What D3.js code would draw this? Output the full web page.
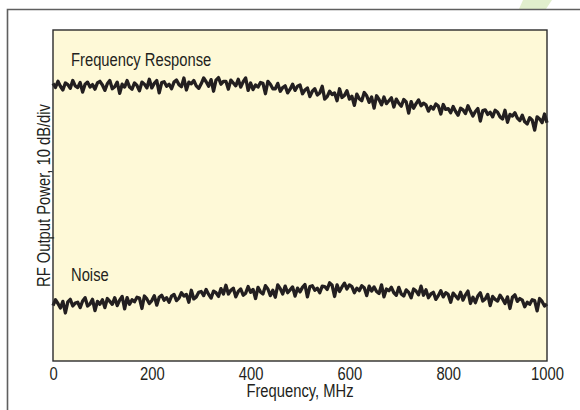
<!DOCTYPE html>
<html>
<head>
<meta charset="utf-8">
<script src="https://cdn.jsdelivr.net/npm/d3@7/dist/d3.min.js"></script>
<style>
  body { margin: 0; background: #fff; }
  text { font-family: 'Liberation Sans', Arial, sans-serif; fill: #231f20; }
</style>
</head>
<body>
<div id="chart"></div>
<script>
// sample grid, 5 MHz steps
var freqs = d3.range(0, 1001, 5)
var xTicks = [0, 200, 400, 600, 800, 1000]

// frequency response trace, relative dB (10 dB/div)
var rfResponse = [
  -12.9, -13.9, -12.4, -13.6, -14.5, -12.8, -13.2, -14.1, -12.2, -13.5,
  -13.9, -12.7, -15.0, -13.1, -12.6, -13.8, -13.2, -14.3, -12.8, -12.4,
  -13.3, -14.6, -13.0, -12.2, -14.2, -13.7, -12.6, -15.3, -13.1, -13.8,
  -12.2, -13.8, -14.3, -12.8, -13.4, -14.7, -12.6, -13.1, -14.0, -11.9,
  -14.0, -12.9, -12.2, -15.2, -12.7, -12.5, -13.6, -13.1, -14.2, -12.6,
  -12.1, -13.2, -13.7, -11.6, -14.5, -12.6, -13.0, -12.2, -13.5, -14.1,
  -13.0, -11.6, -12.5, -13.6, -12.0, -14.8, -12.1, -11.5, -13.1, -12.4,
  -12.4, -14.3, -12.1, -12.8, -13.5, -11.9, -13.8, -12.5, -11.6, -14.6,
  -12.8, -14.4, -13.3, -13.8, -12.7, -12.9, -15.4, -12.4, -13.1, -14.2,
  -14.2, -12.9, -14.8, -13.9, -13.5, -15.2, -14.3, -13.1, -14.6, -13.6,
  -13.3, -15.4, -14.5, -14.0, -16.1, -14.8, -14.2, -15.7, -15.2, -13.6,
  -16.7, -16.1, -14.8, -15.6, -15.2, -17.1, -14.2, -16.3, -15.8, -14.7,
  -16.7, -16.0, -18.2, -15.5, -16.6, -17.1, -15.1, -15.9, -17.5, -16.2,
  -18.9, -15.9, -16.8, -18.1, -16.2, -17.8, -17.1, -16.4, -18.6, -16.7,
  -17.7, -18.4, -16.8, -17.4, -20.1, -17.3, -18.9, -17.8, -16.9, -18.3,
  -17.7, -18.1, -19.6, -18.5, -19.1, -17.9, -18.4, -20.3, -18.0, -19.2,
  -19.0, -20.0, -18.5, -19.7, -20.6, -18.9, -19.3, -20.2, -18.3, -19.6,
  -20.8, -19.7, -19.0, -22.0, -19.5, -19.3, -20.4, -19.9, -21.0, -19.4,
  -19.9, -21.0, -21.5, -19.4, -22.3, -20.4, -20.8, -20.0, -21.3, -21.9,
  -20.6, -22.2, -22.7, -21.2, -21.8, -24.2, -21.0, -21.5, -22.4, -20.3,
  -22.4
]

// noise floor trace, relative dB
var noiseFloor = [
  -66.6, -65.2, -66.1, -67.2, -65.6, -68.4, -65.7, -65.1, -66.7, -66.0,
  -65.8, -67.1, -65.5, -64.7, -66.7, -66.2, -65.1, -67.8, -65.6, -66.3,
  -65.2, -67.1, -64.9, -65.6, -66.3, -64.7, -66.6, -65.3, -64.4, -67.4,
  -64.7, -66.3, -65.2, -65.7, -64.6, -64.8, -67.3, -64.3, -65.0, -66.1,
  -65.4, -64.2, -66.5, -64.6, -64.1, -65.3, -64.7, -65.8, -64.3, -63.9,
  -65.4, -64.8, -63.5, -64.3, -63.9, -65.8, -62.9, -65.0, -64.5, -63.4,
  -63.2, -64.2, -62.7, -63.9, -64.8, -63.1, -63.5, -64.4, -62.5, -63.8,
  -61.7, -63.8, -62.9, -62.4, -64.5, -63.2, -62.6, -64.1, -63.6, -62.0,
  -63.4, -62.7, -64.9, -62.2, -63.3, -63.8, -61.8, -62.6, -64.2, -62.9,
  -64.6, -61.6, -62.5, -63.8, -61.9, -63.5, -62.8, -62.1, -64.3, -62.4,
  -63.3, -62.2, -61.5, -64.5, -62.0, -61.8, -62.9, -62.4, -63.5, -61.9,
  -62.0, -62.7, -61.1, -61.7, -64.4, -61.6, -63.2, -62.1, -61.2, -62.6,
  -61.6, -62.0, -63.5, -62.4, -63.0, -61.8, -62.3, -64.2, -61.9, -63.1,
  -62.1, -63.2, -63.7, -61.6, -64.5, -62.6, -63.0, -62.2, -63.5, -64.1,
  -62.2, -63.8, -64.3, -62.8, -63.4, -64.7, -62.6, -63.1, -64.0, -61.9,
  -64.1, -62.8, -64.7, -63.8, -63.4, -65.1, -64.2, -63.0, -64.5, -63.5,
  -63.9, -65.8, -63.6, -64.3, -65.0, -63.4, -65.3, -64.0, -63.1, -66.1,
  -64.6, -65.9, -64.3, -63.5, -65.5, -65.0, -63.9, -66.6, -64.4, -65.1,
  -65.5, -64.1, -65.0, -66.1, -64.5, -67.3, -64.6, -64.0, -65.6, -64.9,
  -65.3, -66.9, -65.8, -66.3, -65.2, -65.4, -67.9, -64.9, -65.6, -66.7,
  -66.2
]

var seriesLabels = ['Frequency Response', 'Noise']

var width = 580
var height = 410
var margin = { top: 30, right: 33, bottom: 49, left: 53 }
var plotW = width - margin.left - margin.right
var plotH = height - margin.top - margin.bottom

var svg = d3
  .select('#chart')
  .append('svg')
  .attr('width', width)
  .attr('height', height)

// little green mark at the top right of the page
svg
  .append('path')
  .attr('d', 'M523,0 L552,0 L546,9 L519,9 Z')
  .attr('fill', '#e1efcd')

// outer frame (top and left only)
svg
  .append('path')
  .attr('d', 'M580,9.5 L7.5,9.5 L7.5,410')
  .attr('fill', 'none')
  .attr('stroke', '#5f5f5f')
  .attr('stroke-width', 1.6)

var g = svg
  .append('g')
  .attr('transform', 'translate(' + margin.left + ',' + margin.top + ')')

var x = d3.scaleLinear().domain([0, 1000]).range([0, plotW])
var y = d3.scaleLinear().domain([-80, 0]).range([plotH, 0])

g.append('rect')
  .attr('width', plotW)
  .attr('height', plotH)
  .attr('fill', '#fef9d7')

var line = d3
  .line()
  .x((d, i) => x(freqs[i]))
  .y((d) => y(d))

;[rfResponse, noiseFloor].forEach(function (s) {
  g.append('path')
    .datum(s)
    .attr('d', line)
    .attr('fill', 'none')
    .attr('stroke', '#231f20')
    .attr('stroke-width', 3.3)
    .attr('stroke-linejoin', 'round')
})

g.append('rect')
  .attr('width', plotW)
  .attr('height', plotH)
  .attr('fill', 'none')
  .attr('stroke', '#2b2b2b')
  .attr('stroke-width', 1.4)

// x axis: labels only, no tick marks
var xaxis = d3
  .axisBottom(x)
  .tickValues(xTicks)
  .tickFormat(d3.format('d'))
  .tickSize(0)
  .tickPadding(6)
var ax = g
  .append('g')
  .attr('transform', 'translate(0,' + plotH + ')')
  .call(xaxis)
ax.select('.domain').remove()
ax.selectAll('text')
  .attr('class', 'narrow')
  .style('font-family', "'Liberation Sans', Arial, sans-serif")
  .style('font-size', '18px')
  .attr('fill', '#231f20')

// axis titles
g.append('text')
  .attr('class', 'narrow')
  .attr('x', x(500))
  .attr('y', plotH + 36)
  .attr('text-anchor', 'middle')
  .style('font-size', '18px')
  .text('Frequency, MHz')

g.append('text')
  .attr('class', 'narrow')
  .attr('transform', 'translate(-3,' + plotH / 2 + ') rotate(-90)')
  .attr('text-anchor', 'middle')
  .style('font-size', '18px')
  .text('RF Output Power, 10 dB/div')

// trace labels
g.append('text')
  .attr('class', 'narrow')
  .attr('x', 18)
  .attr('y', 35.5)
  .style('font-size', '18px')
  .text(seriesLabels[0])

g.append('text')
  .attr('class', 'narrow')
  .attr('x', 18)
  .attr('y', 251)
  .style('font-size', '18px')
  .text(seriesLabels[1])

// condensed look: squeeze the regular face to about 82% of its width
svg.selectAll('text.narrow').each(function () {
  var w = this.getComputedTextLength()
  d3.select(this)
    .attr('textLength', w * 0.82)
    .attr('lengthAdjust', 'spacingAndGlyphs')
})
</script>
</body>
</html>
